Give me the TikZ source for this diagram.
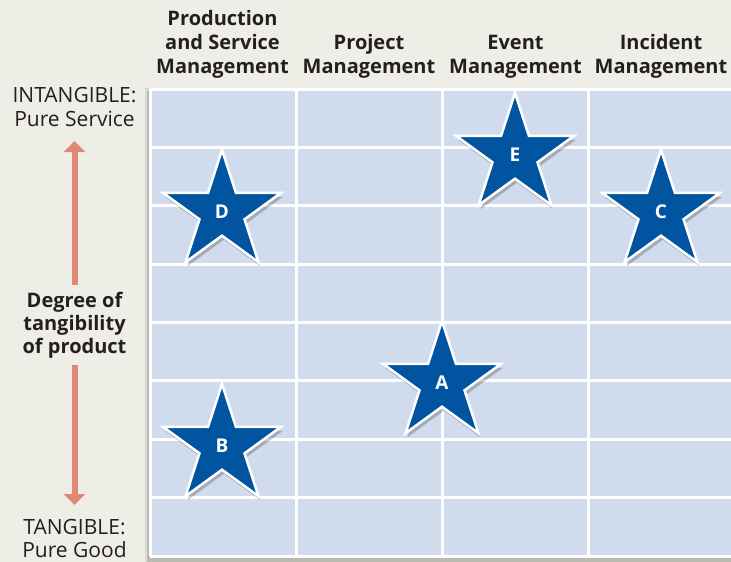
\documentclass[tikz,border=0pt]{standalone}
\usepackage{fontspec}
\setmainfont{Open Sans}
\usetikzlibrary{shapes.geometric,shadows,arrows.meta}
\definecolor{bg}{RGB}{239,238,230}
\definecolor{cell}{RGB}{208,220,237}
\definecolor{starblue}{RGB}{0,84,160}
\definecolor{txt}{RGB}{35,31,32}
\definecolor{arrowc}{RGB}{224,136,120}
\begin{document}
\begin{tikzpicture}[x=1pt,y=-1pt,
  hdr/.style={font=\fontsize{20}{24.2}\selectfont\bfseries, text=txt, align=center, inner sep=0, anchor=south},
  side/.style={font=\fontsize{21}{23.7}\selectfont, text=txt, align=center, inner sep=0, anchor=north},
  sidetight/.style={side, font=\fontsize{21}{22.3}\selectfont},
  sidebold/.style={font=\fontsize{20}{23}\selectfont\bfseries, text=txt, align=center, inner xsep=0, inner ysep=7pt, anchor=north},
  stardot/.style={star, star points=5, star point ratio=2.618, minimum size=124pt, inner sep=0,
    fill=starblue, draw=white, line width=2.5pt, text=white,
    font=\fontsize{19}{19}\selectfont\bfseries,
    drop shadow={fill=black, opacity=0.22, shadow xshift=2pt, shadow yshift=-4pt}},
  gridline/.style={white, line width=3pt},
  axis/.style={arrowc, line width=6pt, -{Triangle[width=21pt,length=11pt]}}
]
\fill[bg] (0,0) rectangle (731,562);
\useasboundingbox (0,0) rectangle (731,562);
% grid shadow
\fill[black, opacity=0.08] (145,88) rectangle (735,563);
\fill[black, opacity=0.15] (147,91) rectangle (735,562);
% cells
\fill[cell] (150,89) rectangle (735,556);
\foreach \xx in {150,296,442.5,588.5} \draw[gridline] (\xx,89) -- (\xx,556);
\foreach \k in {0,...,8} \draw[gridline] (150,89+58.375*\k) -- (735,89+58.375*\k);
% headers
\node[hdr] (h1) at (222.5,78.7) {Production\\and Service\\Management};
\node[hdr] (h2) at (369,78.7) {Project\\Management};
\node[hdr] (h3) at (515.5,78.7) {Event\\Management};
\node[hdr] (h4) at (661,78.7) {Incident\\Management};
% side labels
\node[side] (intang) at (74.5,87.3) {INTANGIBLE:\\Pure Service};
\node[sidetight] (tang) at (74.5,519.5) {TANGIBLE:\\Pure Good};
\node[sidebold] (deg) at (74.5,284.5) {Degree of\\tangibility\\of product};
\coordinate (top) at (74.5,141);
\coordinate (bot) at (74.5,505);
\draw[axis] (deg.north) -- (top);
\draw[axis] (deg.south) -- (bot);
% stars
\node[stardot] (D) at (222,212) {D};
\node[stardot] (B) at (222,446) {B};
\node[stardot] (A) at (442,383) {A};
\node[stardot] (E) at (515,155) {E};
\node[stardot] (C) at (661,212) {C};
\end{tikzpicture}
\end{document}
